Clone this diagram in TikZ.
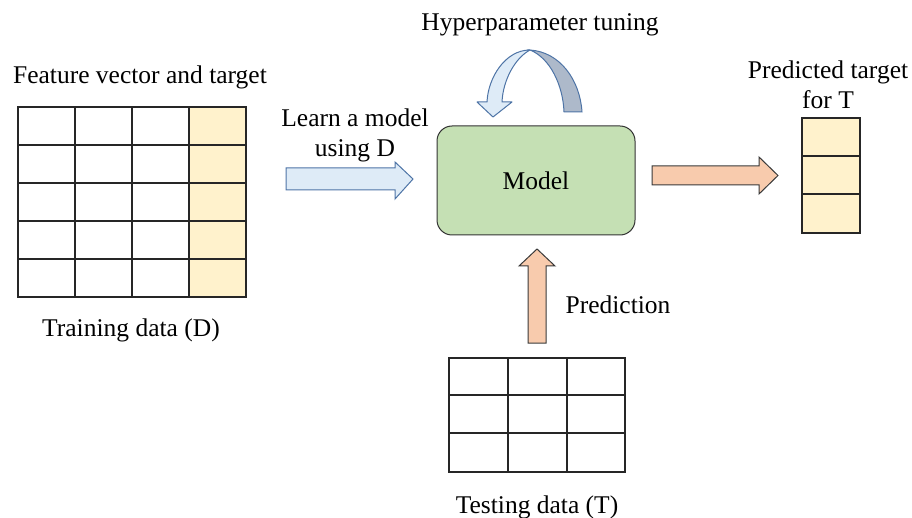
\documentclass[tikz,border=0pt]{standalone}
\usepackage{fontspec}
\setmainfont{Liberation Serif}
\definecolor{targetyellow}{HTML}{FFF2CC}
\definecolor{modelgreen}{HTML}{C5E0B4}
\definecolor{lightblue}{HTML}{DEEBF7}
\definecolor{blueedge}{HTML}{4E74A6}
\definecolor{grayband}{HTML}{ADB9CA}
\definecolor{peach}{HTML}{F8CBAD}
\definecolor{lineedge}{HTML}{3A3A3A}
\tikzset{
  lbl/.style={font=\fontsize{25.5}{30}\selectfont, text=black, align=center, inner sep=0pt},
  gridline/.style={draw=black!85, line width=1.2pt},
  bluearrow/.style={fill=lightblue, draw=blueedge, line width=1pt, line join=miter},
  peacharrow/.style={fill=peach, draw=lineedge, line width=1pt, line join=miter},
}
\begin{document}
\begin{tikzpicture}[x=1pt,y=-1pt]
\useasboundingbox (0,0) rectangle (912,518);
% Training table
\fill[targetyellow] (189,107) rectangle (246,297);
\foreach \xx in {75,132,189} \draw[gridline] (\xx,107) -- (\xx,297);
\foreach \yy in {145,183,221,259} \draw[gridline] (18,\yy) -- (246,\yy);
\node[draw=black!85, line width=1.2pt, inner sep=0pt, minimum width=228pt, minimum height=190pt] (train) at (132,202) {};
\node[lbl] (trainlbl) at (140,77) {Feature vector and target};
\node[lbl] (traincap) at (131,330) {Training data (D)};
% Learn arrow
\draw[bluearrow] (286,168) -- (395,168) -- (395,162) -- (413,179) -- (395,199) -- (395,190) -- (286,190) -- cycle;
\node[lbl] (learnlbl) at (355,135) {Learn a model\\using D};
% Model
\node[draw=black!80, line width=1pt, fill=modelgreen, rounded corners=15pt,
      minimum width=198pt, minimum height=109pt, font=\fontsize{25.5}{30}\selectfont] (model) at (536,180.5) {Model};
% Hyperparameter tuning curved arrow
\draw[fill=grayband, draw=blueedge, line width=1pt] (530,50) .. controls (560,52) and (580,80) .. (582,112) -- (564,112) .. controls (563,85) and (550,58) .. (530,50) -- cycle;
\draw[bluearrow, line join=round] (530,50) .. controls (505,50) and (488,78) .. (487,102) -- (477,102) -- (493,117) -- (512,102) -- (502,102) .. controls (503,80) and (515,58) .. (530,50) -- cycle;
\node[lbl] (hyplbl) at (540,25) {Hyperparameter tuning};
% Output arrow
\draw[peacharrow] (652,166) -- (759,166) -- (759,157) -- (778,175.5) -- (759,194) -- (759,185) -- (652,185) -- cycle;
% Predicted table
\node[draw=black!85, line width=1.2pt, fill=targetyellow, minimum width=58pt, minimum height=115pt, inner sep=0pt] (pred) at (831,175.5) {};
\draw[gridline] (802,156) -- (860,156) (802,194) -- (860,194);
\node[lbl] (predlbl) at (828,85) {Predicted target\\for T};
% Prediction arrow
\draw[peacharrow] (528,343) -- (528,266) -- (519,266) -- (537,249) -- (555,266) -- (546,266) -- (546,343) -- cycle;
\node[lbl] (predictionlbl) at (618,305) {Prediction};
% Testing table
\foreach \xx in {508,567} \draw[gridline] (\xx,358) -- (\xx,472);
\foreach \yy in {395,433} \draw[gridline] (449,\yy) -- (625,\yy);
\node[draw=black!85, line width=1.2pt, inner sep=0pt, minimum width=176pt, minimum height=114pt] (test) at (537,415) {};
\node[lbl] (testlbl) at (537,507) {Testing data (T)};
\end{tikzpicture}
\end{document}
